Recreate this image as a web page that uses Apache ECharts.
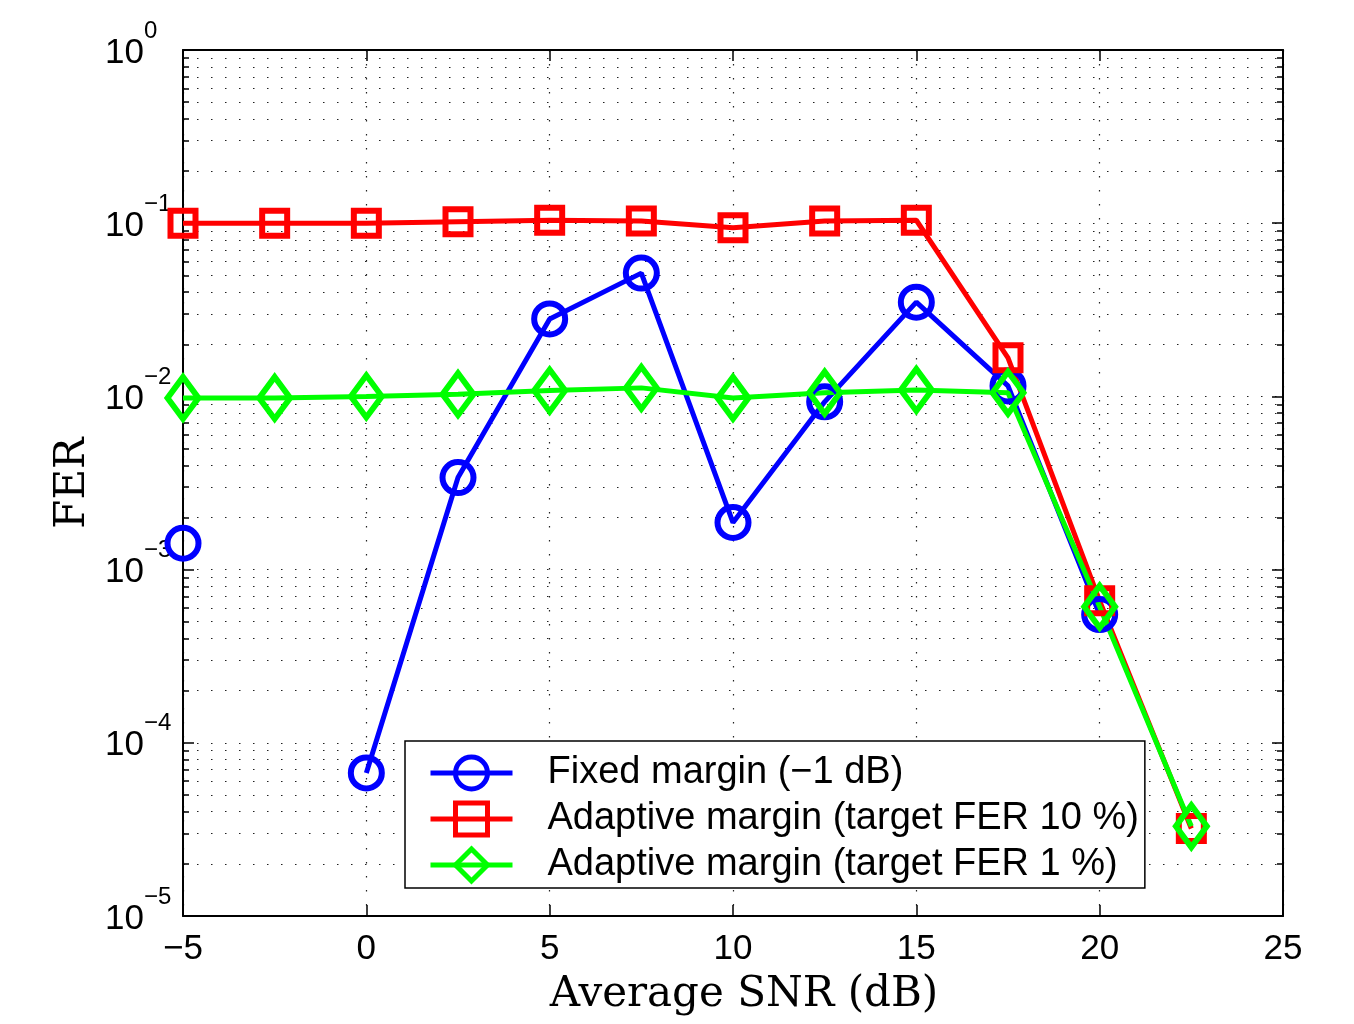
<!DOCTYPE html>
<html>
<head>
<meta charset="utf-8">
<script src="https://cdn.jsdelivr.net/npm/echarts@6/dist/echarts.min.js"></script>
<style>
html,body{margin:0;padding:0;background:#fff;}
#c{width:1354px;height:1024px;}
</style>
</head>
<body>
<div id="c"></div>
<script>
// ---- data ----
var snr = [-5, -2.5, 0, 2.5, 5, 7.5, 10, 12.5, 15, 17.5, 20, 22.5];
var fixedMargin = [1.42e-3, null, 6.7e-5, 3.4e-3, 2.8e-2, 5.15e-2, 1.87e-3, 9.3e-3, 3.5e-2, 1.15e-2, 5.5e-4, null];
var adaptive10 = [0.100, 0.100, 0.100, 0.102, 0.104, 0.103, 0.094, 0.103, 0.104, 1.67e-2, 6.6e-4, 3.2e-5];
var adaptive1 = [9.8e-3, 9.8e-3, 1.0e-2, 1.03e-2, 1.08e-2, 1.12e-2, 9.8e-3, 1.05e-2, 1.09e-2, 1.05e-2, 6.1e-4, 3.3e-5];
var seriesNames = ['Fixed margin (\u22121 dB)', 'Adaptive margin (target FER 10 %)', 'Adaptive margin (target FER 1 %)'];
var xTicks = [-5, 0, 5, 10, 15, 20, 25];
var yRange = [1e-5, 1];

function pairs(xs, ys) {
  return xs.map(function (x, i) { return [x, ys[i] == null ? null : ys[i]]; });
}

var chart = echarts.init(document.getElementById('c'), null, {renderer: 'canvas'});

var dotted = {type: [1.5, 12.5], color: '#222', width: 1.2};
var sansFont = 'Liberation Sans';
var serifFont = 'DejaVu Serif';

function yLabel(v) {
  var e = Math.round(Math.log10(v));
  var s = e === 0 ? '0' : '\u2212' + (-e);
  return '{b|10}{s|' + s + '}';
}
function xLabel(v) {
  return v < 0 ? '\u2212' + (-v) : String(v);
}

var option = {
  animation: false,
  backgroundColor: '#fff',
  grid: {left: 183, right: 71, top: 50, bottom: 108, containLabel: false},
  legend: {
    orient: 'vertical',
    left: 405,
    top: 741,
    itemWidth: 82,
    itemHeight: 40,
    itemGap: 0,
    padding: [9, 6, 0, 23],
    borderColor: '#000',
    borderWidth: 1.5,
    backgroundColor: '#fff',
    borderRadius: 0,
    selectedMode: false,
    lineStyle: {width: 5},
    itemStyle: {borderWidth: 5},
    textStyle: {fontFamily: sansFont, fontSize: 38, lineHeight: 46, color: '#000', padding: [0, 0, 0, 30]},
    data: seriesNames
  },
  xAxis: [{
    type: 'value',
    min: xTicks[0],
    max: xTicks[xTicks.length - 1],
    interval: 5,
    position: 'bottom',
    name: 'Average SNR (dB)',
    nameLocation: 'middle',
    nameGap: 58,
    nameTextStyle: {fontFamily: serifFont, fontSize: 42, color: '#000', padding: [0, 0, 0, 22]},
    axisLine: {show: true, onZero: false, lineStyle: {color: '#000', width: 2}},
    axisTick: {show: true, inside: true, length: 11, lineStyle: {color: '#000', width: 1.5}},
    axisLabel: {show: true, formatter: xLabel, fontFamily: sansFont, fontSize: 35, color: '#000', margin: 16},
    splitLine: {show: true, lineStyle: dotted}
  }, {
    type: 'value',
    min: xTicks[0],
    max: xTicks[xTicks.length - 1],
    interval: 5,
    position: 'top',
    axisLine: {show: true, onZero: false, lineStyle: {color: '#000', width: 2}},
    axisTick: {show: true, inside: true, length: 11, lineStyle: {color: '#000', width: 1.5}},
    axisLabel: {show: false},
    splitLine: {show: false}
  }],
  yAxis: [{
    type: 'log',
    logBase: 10,
    min: yRange[0],
    max: yRange[1],
    position: 'left',
    name: 'FER',
    nameLocation: 'middle',
    nameGap: 85,
    nameTextStyle: {fontFamily: serifFont, fontSize: 42, color: '#000'},
    axisLine: {show: true, onZero: false, lineStyle: {color: '#000', width: 2}},
    axisTick: {show: true, inside: true, length: 11, lineStyle: {color: '#000', width: 1.5}},
    minorTick: {show: true, splitNumber: 9, length: 6, lineStyle: {color: '#000', width: 1.5}},
    axisLabel: {
      show: true, formatter: yLabel, align: 'left', margin: 78, padding: [6, 0, 0, 0],
      rich: {
        b: {fontFamily: sansFont, fontSize: 35, color: '#000', lineHeight: 68},
        s: {fontFamily: sansFont, fontSize: 24, color: '#000', lineHeight: 14, verticalAlign: 'top'}
      }
    },
    splitLine: {show: true, lineStyle: dotted},
    minorSplitLine: {show: true, lineStyle: dotted}
  }, {
    type: 'log',
    logBase: 10,
    min: yRange[0],
    max: yRange[1],
    position: 'right',
    axisLine: {show: true, onZero: false, lineStyle: {color: '#000', width: 2}},
    axisTick: {show: true, inside: true, length: 11, lineStyle: {color: '#000', width: 1.5}},
    minorTick: {show: true, splitNumber: 9, length: 6, lineStyle: {color: '#000', width: 1.5}},
    axisLabel: {show: false},
    splitLine: {show: false}
  }],
  series: [{
    name: seriesNames[0],
    type: 'line',
    data: pairs(snr, fixedMargin),
    symbol: 'circle',
    symbolSize: 31,
    showSymbol: true,
    connectNulls: false,
    clip: false,
    lineStyle: {color: '#0000ff', width: 5},
    itemStyle: {color: 'rgba(255,255,255,0)', borderColor: '#0000ff', borderWidth: 6},
    emphasis: {disabled: true}
  }, {
    name: seriesNames[1],
    type: 'line',
    data: pairs(snr, adaptive10),
    symbol: 'rect',
    symbolSize: 25,
    showSymbol: true,
    clip: false,
    lineStyle: {color: '#ff0000', width: 5},
    itemStyle: {color: 'rgba(255,255,255,0)', borderColor: '#ff0000', borderWidth: 6},
    emphasis: {disabled: true}
  }, {
    name: seriesNames[2],
    type: 'line',
    data: pairs(snr, adaptive1),
    symbol: 'diamond',
    symbolSize: [31, 42],
    showSymbol: true,
    clip: false,
    lineStyle: {color: '#00ff00', width: 5},
    itemStyle: {color: 'rgba(255,255,255,0)', borderColor: '#00ff00', borderWidth: 6},
    emphasis: {disabled: true}
  }]
};
chart.setOption(option);
</script>
</body>
</html>
